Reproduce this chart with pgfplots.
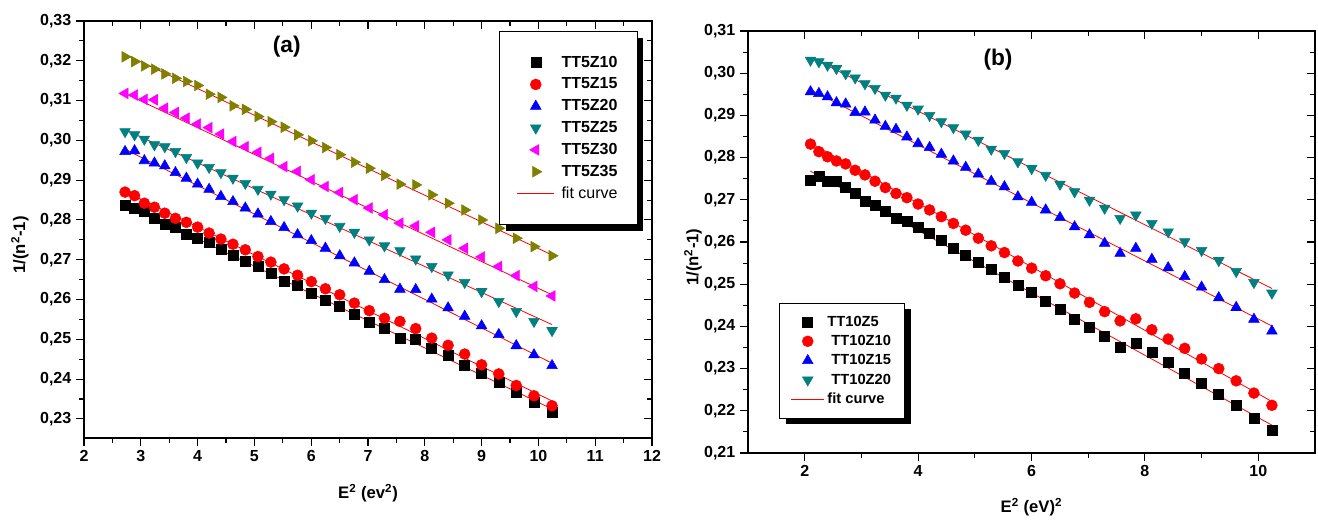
\documentclass[border=0pt]{standalone}
\usepackage{pgfplots}
\pgfplotsset{compat=1.18}
\usepackage{pgfplotstable}
\usepackage{fontspec}
\setmainfont{Liberation Sans}
\usetikzlibrary{backgrounds}
\definecolor{cteal}{RGB}{0,128,128}
\definecolor{colive}{RGB}{128,128,0}
\definecolor{cmag}{RGB}{255,0,255}
\definecolor{cblue}{RGB}{0,0,255}
\definecolor{cred}{RGB}{255,0,0}

\pgfplotstableread{
x      c10    c15    c20    c25    c30    c35
2.7225 0.2836 0.2870 0.2972 0.3022 0.3118 0.3210
2.89   0.2830 0.2861 0.2974 0.3014 0.3114 0.3198
3.0625 0.2821 0.2842 0.2949 0.3003 0.3103 0.3187
3.24   0.2804 0.2832 0.2943 0.2989 0.3102 0.3179
3.4225 0.2789 0.2817 0.2936 0.2984 0.3081 0.3167
3.61   0.2781 0.2804 0.2919 0.2972 0.3070 0.3156
3.8025 0.2765 0.2794 0.2905 0.2957 0.3056 0.3148
4.0    0.2753 0.2782 0.2890 0.2943 0.3041 0.3138
4.2025 0.2743 0.2767 0.2877 0.2932 0.3032 0.3116
4.41   0.2727 0.2752 0.2859 0.2919 0.3016 0.3108
4.6225 0.2712 0.2739 0.2846 0.2905 0.2997 0.3087
4.84   0.2696 0.2725 0.2830 0.2892 0.2984 0.3078
5.0625 0.2683 0.2708 0.2815 0.2877 0.2970 0.3060
5.29   0.2666 0.2694 0.2796 0.2865 0.2955 0.3047
5.5225 0.2647 0.2677 0.2781 0.2851 0.2934 0.3033
5.76   0.2635 0.2661 0.2763 0.2835 0.2922 0.3014
6.0025 0.2616 0.2645 0.2748 0.2817 0.2901 0.2999
6.25   0.2599 0.2627 0.2729 0.2804 0.2884 0.2982
6.5025 0.2584 0.2612 0.2710 0.2784 0.2869 0.2964
6.76   0.2562 0.2591 0.2692 0.2769 0.2851 0.2945
7.0225 0.2543 0.2572 0.2671 0.2750 0.2830 0.2930
7.29   0.2527 0.2553 0.2650 0.2735 0.2813 0.2912
7.5625 0.2503 0.2545 0.2626 0.2723 0.2792 0.2890
7.84   0.2499 0.2527 0.2625 0.2702 0.2785 0.2888
8.1225 0.2478 0.2503 0.2601 0.2683 0.2769 0.2863
8.41   0.2459 0.2485 0.2579 0.2662 0.2750 0.2842
8.7025 0.2436 0.2463 0.2558 0.2643 0.2729 0.2825
9.0    0.2415 0.2436 0.2534 0.2620 0.2707 0.2800
9.3025 0.2392 0.2413 0.2512 0.2595 0.2683 0.2779
9.61   0.2368 0.2384 0.2484 0.2570 0.2660 0.2754
9.9225 0.2342 0.2358 0.2461 0.2545 0.2633 0.2733
10.24  0.2317 0.2333 0.2434 0.2522 0.2609 0.2710
}\leftdata

\pgfplotstableread{
x      c5     c10    c15    c20
2.1025 0.2747 0.2832 0.2956 0.3031
2.25   0.2755 0.2814 0.2952 0.3027
2.4025 0.2743 0.2802 0.2944 0.3019
2.56   0.2743 0.2792 0.2930 0.3011
2.7225 0.2729 0.2785 0.2927 0.2999
2.89   0.2715 0.2770 0.2907 0.2989
3.0625 0.2697 0.2759 0.2908 0.2975
3.24   0.2688 0.2744 0.2889 0.2964
3.4225 0.2672 0.2729 0.2874 0.2948
3.61   0.2656 0.2715 0.2867 0.2941
3.8025 0.2648 0.2705 0.2849 0.2924
4.0    0.2634 0.2690 0.2833 0.2915
4.2025 0.2621 0.2676 0.2824 0.2900
4.41   0.2603 0.2660 0.2808 0.2885
4.6225 0.2585 0.2644 0.2792 0.2871
4.84   0.2568 0.2628 0.2777 0.2856
5.0625 0.2551 0.2609 0.2761 0.2841
5.29   0.2535 0.2591 0.2744 0.2820
5.5225 0.2516 0.2575 0.2731 0.2810
5.76   0.2498 0.2555 0.2707 0.2790
6.0025 0.2480 0.2538 0.2694 0.2774
6.25   0.2460 0.2520 0.2676 0.2758
6.5025 0.2441 0.2501 0.2658 0.2737
6.76   0.2417 0.2479 0.2636 0.2719
7.0225 0.2398 0.2457 0.2617 0.2699
7.29   0.2376 0.2435 0.2597 0.2680
7.5625 0.2351 0.2413 0.2573 0.2656
7.84   0.2360 0.2418 0.2585 0.2664
8.1225 0.2338 0.2392 0.2559 0.2644
8.41   0.2315 0.2370 0.2539 0.2624
8.7025 0.2289 0.2348 0.2518 0.2601
9.0    0.2266 0.2323 0.2493 0.2580
9.3025 0.2240 0.2300 0.2468 0.2556
9.61   0.2212 0.2271 0.2445 0.2530
9.9225 0.2183 0.2242 0.2417 0.2504
10.24  0.2154 0.2213 0.2389 0.2479
}\rightdata

\pgfplotsset{
  frameax/.style={
    scale only axis,
    axis line style={line width=1pt},
    tick style={black, line width=0.8pt},
    major tick length=6pt,
    minor tick length=3.5pt,
    minor tick num=1,
    /pgf/number format/assume math mode=true,
    tick label style={font=\bfseries\fontsize{12}{14}\selectfont},
  },
  mainax/.style={frameax, tick align=outside, xtick pos=left, ytick pos=left,
    yticklabel style={/pgf/number format/.cd, fixed, fixed zerofill, precision=2, use comma},
    label style={font=\bfseries\fontsize{12.5}{15}\selectfont},
    legend cell align=left,
  },
  overax/.style={frameax, tick align=inside, xtick pos=right, ytick pos=right,
    xticklabels={}, yticklabels={}},
  panelA/.style={at={(63pt,-15.75pt)}, anchor=north west,
    width=426pt, height=312.75pt,
    xmin=2, xmax=12, ymin=0.2252, ymax=0.33,
    xtick={2,3,4,5,6,7,8,9,10,11,12},
    ytick={0.23,0.24,0.25,0.26,0.27,0.28,0.29,0.30,0.31,0.32,0.33}},
  panelB/.style={at={(561pt,-23.25pt)}, anchor=north west,
    width=425.25pt, height=316.5pt,
    xmin=1, xmax=11, ymin=0.21, ymax=0.31,
    xtick={2,4,6,8,10},
    ytick={0.21,0.22,0.23,0.24,0.25,0.26,0.27,0.28,0.29,0.30,0.31}},
  msq/.style={only marks, mark=square*, mark size=3.75pt},
  mci/.style={only marks, mark=*, mark size=4.1pt},
  mtri/.style={only marks, mark=triangle*, mark size=4.6pt},
  fitl/.style={color=cred, draw=cred, line width=0.6pt, no marks},
}

\begin{document}
\begin{tikzpicture}
\useasboundingbox (0pt,0pt) rectangle (988.5pt,-389.25pt);

% ---------------- panel (a) ----------------
\begin{axis}[mainax, panelA,
  xlabel={E\textsuperscript{2} (ev\textsuperscript{2})},
  ylabel={1/(n\textsuperscript{2}-1)},
  xlabel style={at={(axis description cs:0.5,-0.132)}, anchor=center},
  ylabel style={at={(axis description cs:-0.113,0.463)}, anchor=center},
  legend image code/.code={\draw[mark repeat=2,mark phase=2,#1] plot coordinates {(0pt,0pt) (14pt,0pt) (28pt,0pt)};},
  legend style={name=legA, at={(0.732,0.974)}, anchor=north west, draw=none, fill=white,
    font=\bfseries\fontsize{12}{14}\selectfont, inner xsep=12.5pt, inner ysep=16pt, row sep=2.5pt,
    /tikz/every odd column/.append style={column sep=3pt}},
]
\addplot[msq, black, draw=black] table[x=x,y=c10]{\leftdata};
\addlegendentry{TT5Z10}
\addplot[mci, cred, draw=cred] table[x=x,y=c15]{\leftdata};
\addlegendentry{TT5Z15}
\addplot[mtri, cblue, draw=cblue] table[x=x,y=c20]{\leftdata};
\addlegendentry{TT5Z20}
\addplot[mtri, cteal, draw=cteal, mark options={rotate=180}] table[x=x,y=c25]{\leftdata};
\addlegendentry{TT5Z25}
\addplot[mtri, cmag, draw=cmag, mark options={rotate=90}] table[x=x,y=c30]{\leftdata};
\addlegendentry{TT5Z30}
\addplot[mtri, colive, draw=colive, mark options={rotate=-90}] table[x=x,y=c35]{\leftdata};
\addlegendentry{TT5Z35}
\addplot[fitl, forget plot] coordinates {(2.72,0.2840) (10.24,0.2325)};
\addplot[fitl, forget plot] coordinates {(2.72,0.2872) (10.24,0.2345)};
\addplot[fitl, forget plot] coordinates {(2.72,0.2978) (10.24,0.2440)};
\addplot[fitl, forget plot] coordinates {(2.72,0.3027) (10.24,0.2537)};
\addplot[fitl, forget plot] coordinates {(2.72,0.3118) (10.24,0.2612)};
\addplot[fitl] coordinates {(2.72,0.3216) (10.24,0.2712)};
\addlegendentry{\mdseries fit curve}
\node[font=\bfseries\fontsize{17}{20}\selectfont] at (rel axis cs:0.357,0.938) {(a)};
\end{axis}
\begin{axis}[overax, panelA]
\end{axis}

% ---------------- panel (b) ----------------
\begin{axis}[mainax, panelB,
  xlabel={E\textsuperscript{2} (eV)\textsuperscript{2}},
  ylabel={1/(n\textsuperscript{2}-1)},
  xlabel style={at={(axis description cs:0.5,-0.128)}, anchor=center},
  ylabel style={at={(axis description cs:-0.097,0.464)}, anchor=center},
  legend image code/.code={\draw[mark repeat=2,mark phase=2,#1] plot coordinates {(0pt,0pt) (12.5pt,0pt) (25pt,0pt)};},
  legend style={name=legB, at={(0.056,0.355)}, anchor=north west, draw=none, fill=white,
    font=\bfseries\fontsize{11}{13}\selectfont, inner xsep=8pt, inner ysep=7.3pt, row sep=1.3pt},
]
\addplot[msq, black, draw=black] table[x=x,y=c5]{\rightdata};
\addlegendentry{TT10Z5}
\addplot[mci, cred, draw=cred] table[x=x,y=c10]{\rightdata};
\addlegendentry{\hspace*{3pt}TT10Z10}
\addplot[mtri, cblue, draw=cblue] table[x=x,y=c15]{\rightdata};
\addlegendentry{\hspace*{3pt}TT10Z15}
\addplot[mtri, cteal, draw=cteal, mark options={rotate=180}] table[x=x,y=c20]{\rightdata};
\addlegendentry{\hspace*{3pt}TT10Z20}
\addplot[fitl, forget plot] coordinates {(2.10,0.2768) (10.24,0.2166)};
\addplot[fitl, forget plot] coordinates {(2.10,0.2835) (10.24,0.2222)};
\addplot[fitl, forget plot] coordinates {(2.10,0.2961) (10.24,0.2401)};
\addplot[fitl] coordinates {(2.10,0.3038) (10.24,0.2490)};
\addlegendentry{fit curve}
\node[font=\bfseries\fontsize{17}{20}\selectfont] at (rel axis cs:0.441,0.931) {(b)};
\end{axis}
\begin{axis}[overax, panelB]
\end{axis}

\draw[black, line width=0.6pt] (legA.south west) rectangle (legA.north east);
\draw[black, line width=0.6pt] (legB.south west) rectangle (legB.north east);
\begin{pgfonlayer}{background}
\fill[black] ([shift={(4.5pt,-4.5pt)}]legA.south west) rectangle ([shift={(4.5pt,-4.5pt)}]legA.north east);
\fill[black] ([shift={(4.5pt,-4.5pt)}]legB.south west) rectangle ([shift={(4.5pt,-4.5pt)}]legB.north east);
\end{pgfonlayer}
\end{tikzpicture}
\end{document}
